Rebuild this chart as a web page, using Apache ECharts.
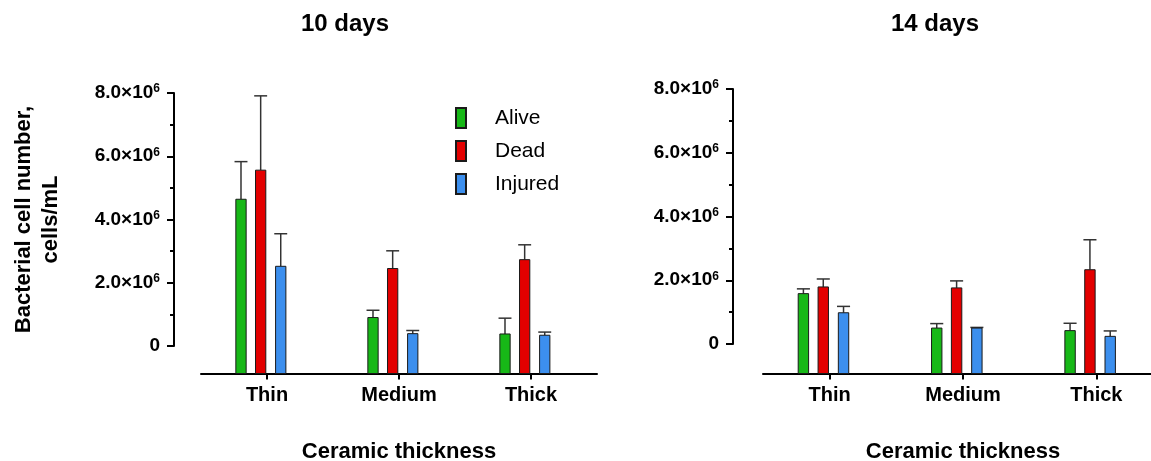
<!DOCTYPE html>
<html>
<head>
<meta charset="utf-8">
<script src="https://cdn.jsdelivr.net/npm/echarts@6/dist/echarts.min.js"></script>
<style>html,body{margin:0;padding:0;background:#fff}#c{width:1151px;height:461px}</style>
</head>
<body>
<div id="c"></div>
<script>
// ---- data ----
const categories = ['Thin', 'Medium', 'Thick'];
const seriesNames = ['Alive', 'Dead', 'Injured'];
const panelTitles = ['10 days', '14 days'];
const xAxisTitle = 'Ceramic thickness';
const yAxisTitle = 'Bacterial cell number,\ncells/mL';
const yTickValues = [0, 2e6, 4e6, 6e6, 8e6];

// 10 days: means and error (SD) in cells/mL
const alive10 = [4.64e6, 0.90e6, 0.38e6];
const aliveErr10 = [1.19e6, 0.23e6, 0.50e6];
const dead10 = [5.56e6, 2.45e6, 2.73e6];
const deadErr10 = [2.35e6, 0.56e6, 0.47e6];
const injured10 = [2.52e6, 0.39e6, 0.34e6];
const injuredErr10 = [1.03e6, 0.10e6, 0.10e6];

// 14 days
const alive14 = [1.58e6, 0.50e6, 0.42e6];
const aliveErr14 = [0.15e6, 0.14e6, 0.23e6];
const dead14 = [1.79e6, 1.76e6, 2.33e6];
const deadErr14 = [0.25e6, 0.22e6, 0.94e6];
const injured14 = [0.98e6, 0.50e6, 0.24e6];
const injuredErr14 = [0.20e6, 0.02e6, 0.17e6];

// ---- styling ----
const FONT = '"Liberation Sans", Arial, Helvetica, sans-serif';
const COLORS = ['#17b817', '#e30000', '#3c8fee'];
const BAR_OFFSETS = [-0.197, -0.048, 0.104];
const BAR_W = 0.078;
const CAP_W = 0.098;
const YMAX = yTickValues[yTickValues.length - 1];
const yMinLeft = -YMAX * 27.5 / 253;
const yMinRight = -YMAX * 29.5 / 255;

function tickFmt(v) {
  if (v === 0) return '{b|0}';
  return '{b|' + (v / 1e6).toFixed(1) + '×10}{s|6}';
}

function makeSeries(slot, means, errs, axisIdx, yMin) {
  const color = COLORS[slot];
  return {
    type: 'custom',
    name: seriesNames[slot],
    xAxisIndex: axisIdx,
    yAxisIndex: axisIdx,
    itemStyle: { color: color, borderColor: '#1a1a1a', borderWidth: 1 },
    data: means.map((m, i) => [i, m, errs[i]]),
    encode: { x: 0, y: 1 },
    renderItem: function (params, api) {
      const ci = api.value(0), m = api.value(1), e = api.value(2);
      const band = api.size([1, 0])[0];
      const top = api.coord([ci, m]);
      const base = api.coord([ci, yMin]);
      const et = api.coord([ci, m + e]);
      const cx = top[0] + BAR_OFFSETS[slot] * band;
      const bw = BAR_W * band, cw = CAP_W * band;
      return {
        type: 'group',
        children: [
          { type: 'line', shape: { x1: cx, y1: top[1], x2: cx, y2: et[1] }, style: { stroke: '#333', lineWidth: 1.5 } },
          { type: 'line', shape: { x1: cx - cw / 2, y1: et[1], x2: cx + cw / 2, y2: et[1] }, style: { stroke: '#333', lineWidth: 1.5 } },
          { type: 'rect', shape: { x: cx - bw / 2, y: top[1], width: bw, height: base[1] - top[1] }, style: { fill: color, stroke: '#1a1a1a', lineWidth: 1 } }
        ]
      };
    }
  };
}

function displayYAxis(gridIndex, name) {
  return {
    type: 'value', gridIndex: gridIndex, min: 0, max: YMAX, interval: 2e6,
    name: name, nameLocation: 'middle', nameGap: 110,
    nameTextStyle: { fontFamily: FONT, fontSize: 22, fontWeight: 'bold', color: '#000', lineHeight: 27 },
    axisLine: { show: true, lineStyle: { color: '#000', width: 2 } },
    axisTick: { show: true, length: 7, lineStyle: { color: '#000', width: 2 } },
    minorTick: { show: true, splitNumber: 2, length: 4, lineStyle: { color: '#000', width: 2 } },
    splitLine: { show: false },
    axisLabel: {
      margin: 14, formatter: tickFmt,
      rich: {
        b: { fontFamily: FONT, fontSize: 19, fontWeight: 'bold', color: '#000', lineHeight: 20 },
        s: { fontFamily: FONT, fontSize: 12, fontWeight: 'bold', color: '#000', verticalAlign: 'top', lineHeight: 20, padding: [0, 0, 6, 0] }
      }
    }
  };
}

function catXAxis(gridIndex) {
  return {
    type: 'category', gridIndex: gridIndex, data: categories,
    name: xAxisTitle, nameLocation: 'middle', nameGap: 67,
    nameTextStyle: { fontFamily: FONT, fontSize: 22, fontWeight: 'bold', color: '#000' },
    axisLine: { show: true, onZero: false, lineStyle: { color: '#000', width: 2 } },
    axisTick: { show: true, alignWithLabel: true, length: 6, lineStyle: { color: '#000', width: 2 } },
    axisLabel: { margin: 12, fontFamily: FONT, fontSize: 20, fontWeight: 'bold', color: '#000' }
  };
}

function hiddenXAxis(gridIndex) {
  return { type: 'category', gridIndex: gridIndex, data: categories, show: false };
}
function hiddenYAxis(gridIndex, yMin) {
  return { type: 'value', gridIndex: gridIndex, min: yMin, max: YMAX, show: false, splitLine: { show: false } };
}

const chart = echarts.init(document.getElementById('c'), null, { renderer: 'canvas' });
const gridBase = { outerBoundsMode: 'none', containLabel: false };
const option = {
  backgroundColor: '#fff',
  animation: false,
  grid: [
    Object.assign({ left: 201, top: 93, width: 396, height: 280.5 }, gridBase),   // left bars
    Object.assign({ left: 763, top: 89, width: 400, height: 284.5 }, gridBase),   // right bars
    Object.assign({ left: 174, top: 93, width: 20, height: 253 }, gridBase),      // left y axis
    Object.assign({ left: 733, top: 89, width: 20, height: 255 }, gridBase)       // right y axis
  ],
  xAxis: [catXAxis(0), catXAxis(1), hiddenXAxis(2), hiddenXAxis(3)],
  yAxis: [hiddenYAxis(0, yMinLeft), hiddenYAxis(1, yMinRight), displayYAxis(2, yAxisTitle), displayYAxis(3, '')],
  legend: {
    data: seriesNames, orient: 'vertical', left: 450, top: 102,
    itemWidth: 10, itemHeight: 20, itemGap: 11, icon: 'rect', selectedMode: false,
    textStyle: { fontFamily: FONT, fontSize: 21, color: '#000', padding: [0, 0, 0, 24] }
  },
  graphic: [
    { type: 'text', x: 345, y: 24, style: { text: panelTitles[0], font: 'bold 24px ' + FONT, fill: '#000', textAlign: 'center', textVerticalAlign: 'middle', align: 'center', verticalAlign: 'middle' } },
    { type: 'text', x: 935, y: 24, style: { text: panelTitles[1], font: 'bold 24px ' + FONT, fill: '#000', textAlign: 'center', textVerticalAlign: 'middle', align: 'center', verticalAlign: 'middle' } }
  ],
  series: [
    makeSeries(0, alive10, aliveErr10, 0, yMinLeft),
    makeSeries(1, dead10, deadErr10, 0, yMinLeft),
    makeSeries(2, injured10, injuredErr10, 0, yMinLeft),
    makeSeries(0, alive14, aliveErr14, 1, yMinRight),
    makeSeries(1, dead14, deadErr14, 1, yMinRight),
    makeSeries(2, injured14, injuredErr14, 1, yMinRight)
  ]
};
chart.setOption(option);
</script>
</body>
</html>
